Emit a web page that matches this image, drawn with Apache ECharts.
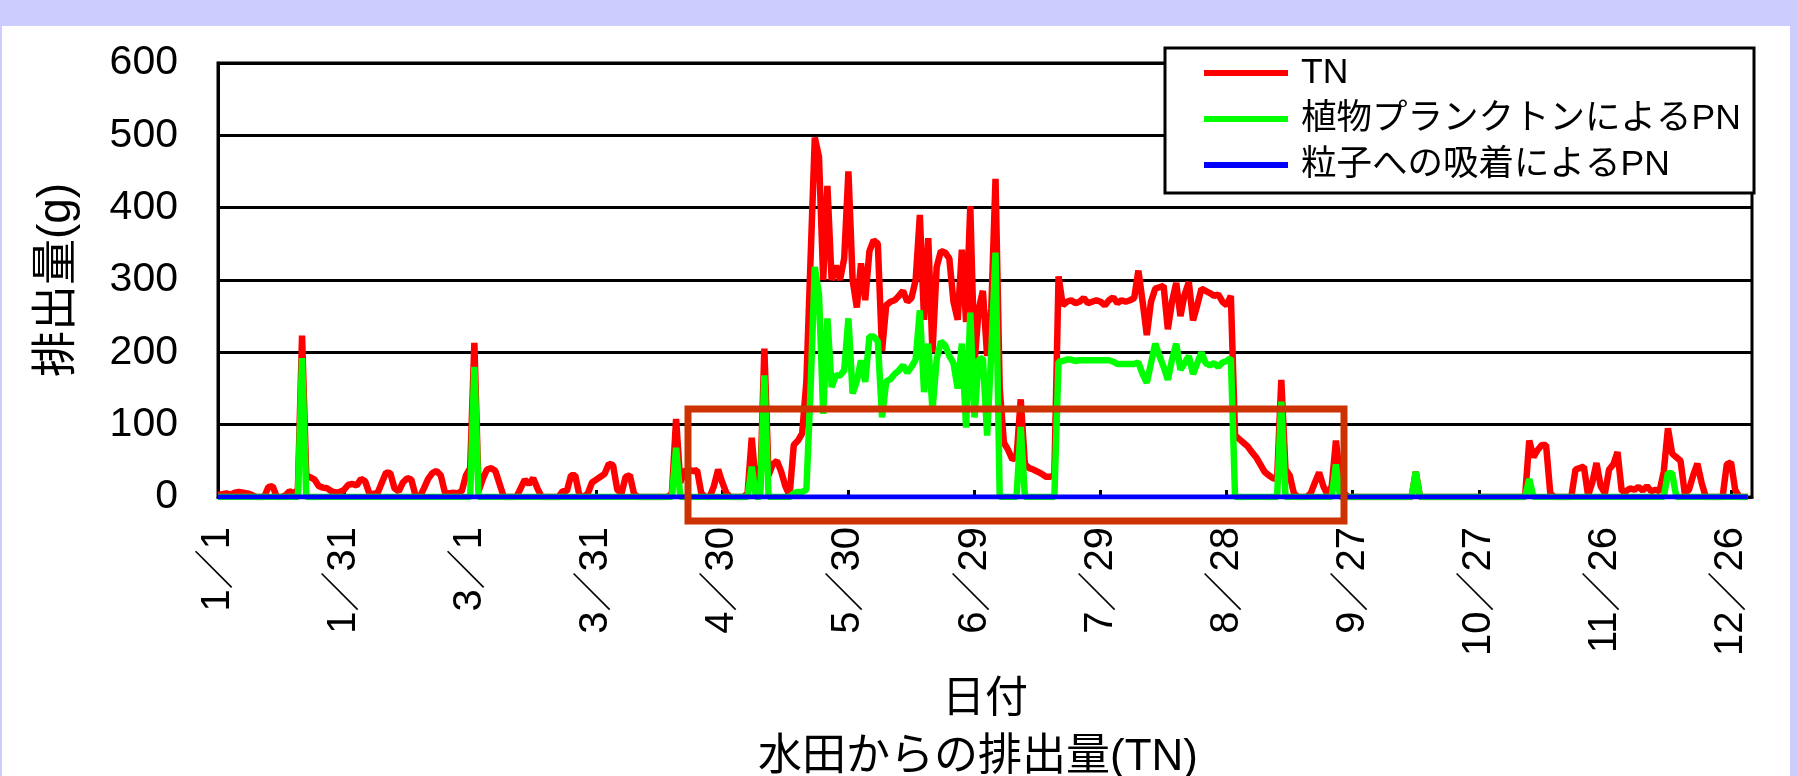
<!DOCTYPE html>
<html>
<head>
<meta charset="utf-8">
<title>水田からの排出量(TN)</title>
<script src="https://cdn.jsdelivr.net/npm/echarts@6/dist/echarts.min.js"></script>
<style>
  html, body { margin: 0; padding: 0; }
  #wrap { position: relative; width: 1797px; height: 776px; background: #ccccff; overflow: hidden; }
  #panel { position: absolute; left: 2px; top: 26px; width: 1788px; height: 750px; background: #ffffff; }
  #chart { position: absolute; left: 0; top: 0; width: 1797px; height: 776px; }
</style>
</head>
<body>
<div id="wrap">
  <div id="panel"></div>
  <div id="chart"></div>
</div>
<script>
// 閏年の日付 (1/1 ～ 12/31)
const monthDays = [31, 29, 31, 30, 31, 30, 31, 31, 30, 31, 30, 31];
const days = [];
monthDays.forEach((n, m) => {
    for (let d = 1; d <= n; d++) days.push((m + 1) + '／' + d);
});

const seriesNames = ['TN', '植物プランクトンによるPN', '粒子への吸着によるPN'];
const yTicks = [0, 100, 200, 300, 400, 500, 600];

// TN 排出量 (g/日)
const tn = [
    3, 4, 5, 3, 6, 7, 6, 5, 3, 0,
    0, 0, 14, 15, 0, 0, 2, 8, 5, 10,
    223, 30, 27, 24, 15, 13, 12, 8, 6, 7,
    10, 17, 18, 16, 25, 22, 5, 4, 6, 20,
    34, 33, 12, 8, 20, 26, 24, 2, 0, 12,
    25, 33, 36, 30, 6, 5, 6, 5, 8, 30,
    40, 213, 8, 25, 38, 40, 36, 18, 0, 0,
    0, 0, 12, 24, 18, 26, 12, 0, 0, 0,
    0, 0, 8, 8, 30, 30, 2, 0, 5, 20,
    24, 28, 32, 46, 44, 10, 5, 28, 30, 4,
    0, 0, 0, 0, 0, 0, 0, 0, 5, 108,
    20, 36, 38, 36, 37, 5, 0, 0, 15, 38,
    20, 5, 0, 0, 0, 0, 5, 82, 15, 10,
    205, 30, 45, 50, 35, 15, 2, 72, 78, 88,
    160, 330, 497, 470, 300, 430, 300, 320, 300, 330,
    450, 300, 262, 323, 272, 340, 355, 350, 202, 265,
    270, 272, 278, 285, 270, 275, 300, 390, 245, 358,
    200, 318, 340, 338, 330, 270, 245, 342, 242, 402,
    185, 260, 285, 195, 260, 440, 150, 75, 65, 52,
    55, 135, 45, 40, 38, 35, 32, 28, 28, 30,
    305, 265, 270, 272, 268, 270, 275, 268, 270, 272,
    270, 265, 272, 276, 268, 272, 270, 272, 275, 313,
    270, 224, 270, 288, 290, 292, 232, 270, 296, 250,
    280, 297, 244, 265, 288, 285, 282, 278, 280, 270,
    265, 278, 85, 80, 75, 70, 62, 55, 45, 35,
    30, 26, 25, 162, 38, 30, 5, 0, 0, 0,
    5, 20, 34, 15, 3, 15, 78, 25, 5, 0,
    0, 0, 0, 0, 0, 0, 0, 0, 0, 0,
    0, 0, 0, 0, 0, 35, 0, 0, 0, 0,
    0, 0, 0, 0, 0, 0, 0, 0, 0, 0,
    0, 0, 0, 0, 0, 0, 0, 0, 0, 0,
    0, 0, 78, 55, 65, 72, 72, 5, 0, 0,
    0, 0, 0, 38, 40, 42, 2, 20, 47, 15,
    5, 38, 45, 62, 8, 8, 12, 10, 14, 9,
    15, 8, 10, 8, 35, 95, 60, 55, 50, 5,
    10, 30, 46, 20, 0, 0, 0, 0, 0, 45,
    48, 10, 0, 0, 0
];

// 植物プランクトンによるPN
const pnPhyto = [
    0, 0, 0, 0, 0, 0, 0, 0, 0, 0,
    0, 0, 0, 0, 0, 0, 0, 0, 0, 0,
    192, 0, 0, 0, 0, 0, 0, 0, 0, 0,
    0, 0, 0, 0, 0, 0, 0, 0, 0, 0,
    0, 0, 0, 0, 0, 0, 0, 0, 0, 0,
    0, 0, 0, 0, 0, 0, 0, 0, 0, 0,
    0, 180, 0, 0, 0, 0, 0, 0, 0, 0,
    0, 0, 0, 0, 0, 0, 0, 0, 0, 0,
    0, 0, 0, 0, 0, 0, 0, 0, 0, 0,
    0, 0, 0, 0, 0, 0, 0, 0, 0, 0,
    0, 0, 0, 0, 0, 0, 0, 0, 0, 68,
    0, 0, 0, 0, 0, 0, 0, 0, 0, 0,
    0, 0, 0, 0, 0, 0, 0, 42, 0, 0,
    168, 0, 0, 0, 0, 0, 0, 5, 7, 7,
    10, 150, 318, 280, 115, 247, 152, 168, 168, 175,
    247, 143, 160, 189, 159, 222, 222, 215, 110, 160,
    163, 170, 175, 182, 172, 180, 190, 258, 145, 212,
    120, 190, 215, 210, 195, 185, 150, 212, 96, 255,
    110, 190, 192, 85, 200, 338, 0, 0, 0, 0,
    0, 97, 0, 0, 0, 0, 0, 0, 0, 0,
    187, 188, 190, 190, 188, 189, 189, 189, 189, 189,
    189, 189, 189, 187, 184, 184, 184, 184, 184, 186,
    170, 158, 185, 212, 195, 180, 162, 190, 212, 176,
    185, 195, 170, 185, 200, 185, 182, 185, 180, 186,
    188, 192, 0, 0, 0, 0, 0, 0, 0, 0,
    0, 0, 0, 132, 0, 0, 0, 0, 0, 0,
    0, 0, 0, 0, 0, 0, 45, 0, 0, 0,
    0, 0, 0, 0, 0, 0, 0, 0, 0, 0,
    0, 0, 0, 0, 0, 35, 0, 0, 0, 0,
    0, 0, 0, 0, 0, 0, 0, 0, 0, 0,
    0, 0, 0, 0, 0, 0, 0, 0, 0, 0,
    0, 0, 25, 0, 0, 0, 0, 0, 0, 0,
    0, 0, 0, 0, 0, 0, 0, 0, 0, 0,
    0, 0, 0, 0, 0, 0, 0, 0, 0, 0,
    0, 0, 0, 0, 0, 33, 33, 0, 0, 0,
    0, 0, 0, 0, 0, 0, 0, 0, 0, 0,
    0, 0, 0, 0, 0
];

// 粒子への吸着によるPN (通年ほぼ0)
const pnAdsorb = [
    0, 0, 0, 0, 0, 0, 0, 0, 0, 0, 0, 0, 0, 0, 0, 0, 0, 0, 0, 0, 0, 0, 0, 0, 0, 0, 0, 0, 0, 0,
    0, 0, 0, 0, 0, 0, 0, 0, 0, 0, 0, 0, 0, 0, 0, 0, 0, 0, 0, 0, 0, 0, 0, 0, 0, 0, 0, 0, 0, 0,
    0, 0, 0, 0, 0, 0, 0, 0, 0, 0, 0, 0, 0, 0, 0, 0, 0, 0, 0, 0, 0, 0, 0, 0, 0, 0, 0, 0, 0, 0,
    0, 0, 0, 0, 0, 0, 0, 0, 0, 0, 0, 0, 0, 0, 0, 0, 0, 0, 0, 0, 0, 0, 0, 0, 0, 0, 0, 0, 0, 0,
    0, 0, 0, 0, 0, 0, 0, 0, 0, 0, 0, 0, 0, 0, 0, 0, 0, 0, 0, 0, 0, 0, 0, 0, 0, 0, 0, 0, 0, 0,
    0, 0, 0, 0, 0, 0, 0, 0, 0, 0, 0, 0, 0, 0, 0, 0, 0, 0, 0, 0, 0, 0, 0, 0, 0, 0, 0, 0, 0, 0,
    0, 0, 0, 0, 0, 0, 0, 0, 0, 0, 0, 0, 0, 0, 0, 0, 0, 0, 0, 0, 0, 0, 0, 0, 0, 0, 0, 0, 0, 0,
    0, 0, 0, 0, 0, 0, 0, 0, 0, 0, 0, 0, 0, 0, 0, 0, 0, 0, 0, 0, 0, 0, 0, 0, 0, 0, 0, 0, 0, 0,
    0, 0, 0, 0, 0, 0, 0, 0, 0, 0, 0, 0, 0, 0, 0, 0, 0, 0, 0, 0, 0, 0, 0, 0, 0, 0, 0, 0, 0, 0,
    0, 0, 0, 0, 0, 0, 0, 0, 0, 0, 0, 0, 0, 0, 0, 0, 0, 0, 0, 0, 0, 0, 0, 0, 0, 0, 0, 0, 0, 0,
    0, 0, 0, 0, 0, 0, 0, 0, 0, 0, 0, 0, 0, 0, 0, 0, 0, 0, 0, 0, 0, 0, 0, 0, 0, 0, 0, 0, 0, 0,
    0, 0, 0, 0, 0, 0, 0, 0, 0, 0, 0, 0, 0, 0, 0, 0, 0, 0, 0, 0, 0, 0, 0, 0, 0, 0, 0, 0, 0, 0,
    0, 0, 0, 0, 0
];

const FONT = "'Liberation Sans', 'Noto Sans CJK JP', sans-serif";
const colors = ['#ff0000', '#00ff00', '#0000ff'];
const widths = [6.5, 6.5, 5];

const chart = echarts.init(document.getElementById('chart'));
const options = {
    animation: false,
    textStyle: { fontFamily: FONT, color: '#000' },
    grid: {
        left: 218, right: 45, top: 63, bottom: 279,
        show: true, borderColor: '#000', borderWidth: 3
    },
    legend: {
        data: seriesNames,
        orient: 'vertical',
        left: 1204, top: 50,
        padding: 0, itemGap: 0,
        icon: 'rect', itemWidth: 84, itemHeight: 6,
        selectedMode: false,
        z: 60,
        textStyle: { fontSize: 35.5, lineHeight: 46, color: '#000', fontFamily: FONT, padding: [0, 0, 0, 8] }
    },
    xAxis: {
        type: 'category',
        data: days,
        boundaryGap: false,
        name: '日付',
        nameLocation: 'middle',
        nameGap: 182,
        nameTextStyle: { fontSize: 43, color: '#000', fontFamily: FONT, verticalAlign: 'top' },
        axisLine: { lineStyle: { color: '#000', width: 3 } },
        axisTick: { inside: true, length: 7, interval: 29, lineStyle: { color: '#000', width: 3 } },
        axisLabel: { interval: 29, rotate: 90, margin: 30, fontSize: 40, color: '#000', fontFamily: FONT },
        splitLine: { show: false }
    },
    yAxis: {
        type: 'value',
        min: yTicks[0], max: yTicks[yTicks.length - 1], interval: 100,
        name: '排出量(g)',
        nameLocation: 'middle',
        nameGap: 138,
        nameRotate: 90,
        nameTextStyle: { fontSize: 46, color: '#000', fontFamily: FONT },
        axisLine: { show: true, lineStyle: { color: '#000', width: 3 } },
        axisTick: { show: false },
        axisLabel: { fontSize: 41, margin: 40, color: '#000', fontFamily: FONT },
        splitLine: { show: true, lineStyle: { color: '#000', width: 3 } }
    },
    graphic: [
        {
            // 凡例の枠
            type: 'rect', z: 50,
            shape: { x: 1165, y: 48, width: 589, height: 145 },
            style: { fill: '#fff', stroke: '#000', lineWidth: 3 }
        },
        {
            // 注目範囲の枠
            type: 'rect', z: 70,
            shape: { x: 688, y: 409, width: 656, height: 112 },
            style: { fill: 'none', stroke: '#cc3300', lineWidth: 7 }
        },
        {
            type: 'text', z: 70, x: 978, y: 758,
            style: {
                text: '水田からの排出量(TN)', fill: '#000',
                font: '44px ' + FONT,
                align: 'center', verticalAlign: 'middle',
                textAlign: 'center', textVerticalAlign: 'middle'
            }
        }
    ],
    series: [tn, pnPhyto, pnAdsorb].map((d, i) => ({
        name: seriesNames[i],
        type: 'line',
        data: d,
        symbol: 'none',
        itemStyle: { color: colors[i] },
        lineStyle: { color: colors[i], width: widths[i] },
        z: 2 + i
    }))
};
chart.setOption(options, { notMerge: true });
</script>
</body>
</html>
